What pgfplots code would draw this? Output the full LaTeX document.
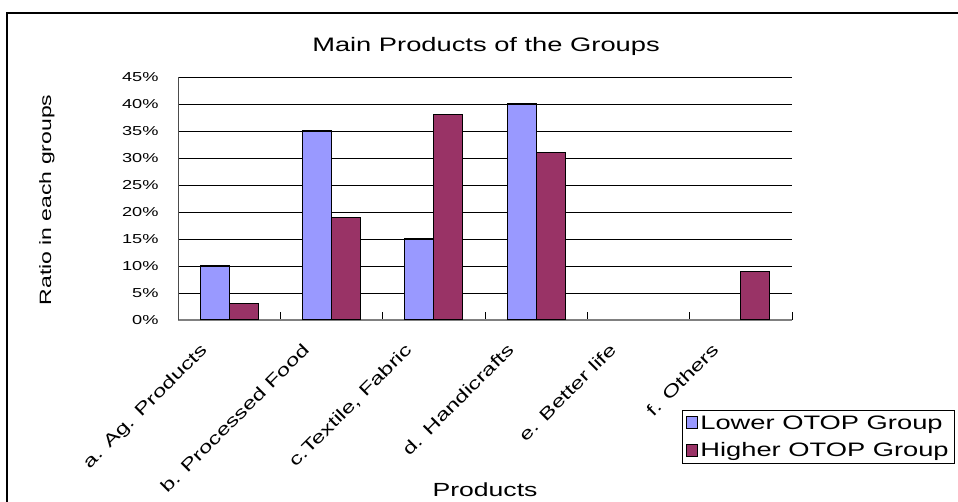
\documentclass[border=0pt]{standalone}
\usepackage{fontspec}
\setmainfont{Liberation Sans}[FakeStretch=1.4]
\usepackage{pgfplots}
\pgfplotsset{compat=1.18}
\definecolor{lowc}{HTML}{9999FF}
\definecolor{highc}{HTML}{993366}
\begin{document}
\begin{tikzpicture}
\useasboundingbox (0,0) rectangle (958pt,502pt);
\draw[line width=2pt] (7pt,-2pt) -- (7pt,489pt) -- (962pt,489pt);
\begin{axis}[
  at={(178pt,182pt)}, anchor=south west,
  scale only axis, width=614pt, height=243pt,
  ybar=0pt, bar width=29pt,
  xmin=-0.5, xmax=5.5, ymin=0, ymax=45,
  xtick={0,...,5},
  xticklabels={a. Ag. Products, b. Processed Food, {c.Textile, Fabric}, d. Handicrafts, e. Better life, f. Others},
  major x tick style={draw=none},
  minor xtick={0.5,1.5,2.5,3.5,4.5,5.5},
  tick align=inside,
  major tick length=8pt, minor tick length=8pt,
  ytick={0,5,...,45},
  yticklabels={0\%,5\%,10\%,15\%,20\%,25\%,30\%,35\%,40\%,45\%},
  ymajorgrids, grid style={black, line width=0.8pt},
  axis x line*=bottom, axis y line*=left,
  x axis line style={gray, line width=1.2pt, -},
  y axis line style={black!70, line width=0.8pt, -},
  tick style={black, line width=0.8pt},
  yticklabel style={font=\fontsize{13}{15}\selectfont, xshift=-16pt},
  xticklabel style={xshift=-30pt, yshift=-22pt, rotate=45, anchor=north east, inner sep=0pt, font=\fontsize{17}{19}\selectfont},
  legend style={at={(axis description cs:0.8208,-0.3704)}, anchor=north west, draw=black, line width=0.8pt,
    font=\fontsize{19.5}{21}\selectfont, cells={anchor=west}, row sep=8pt, inner xsep=4pt, inner ysep=3pt,
    nodes={inner sep=2pt}},
]
\addplot[fill=lowc, draw=black, line width=1.3pt,
  legend image code/.code={\draw[fill=lowc,draw=black,line width=1pt] (0pt,-6pt) rectangle (11pt,6pt);}]
  coordinates {(0,10) (1,35) (2,15) (3,40)};
\addlegendentry{Lower OTOP Group}
\addplot[fill=highc, draw=black, line width=1.3pt,
  legend image code/.code={\draw[fill=highc,draw=black,line width=1pt] (0pt,-6pt) rectangle (11pt,6pt);}]
  coordinates {(0,3) (1,19) (2,38) (3,31) (5,9)};
\addlegendentry{Higher OTOP Group}
\end{axis}
\node[font=\fontsize{19.5}{22}\selectfont] at (486pt,456pt) {Main Products of the Groups};
\node[rotate=90, font=\fontsize{16.4}{18}\selectfont] at (47pt,302pt) {Ratio in each groups};
\node[font=\fontsize{19}{21}\selectfont] at (485pt,12pt) {Products};
\end{tikzpicture}
\end{document}
